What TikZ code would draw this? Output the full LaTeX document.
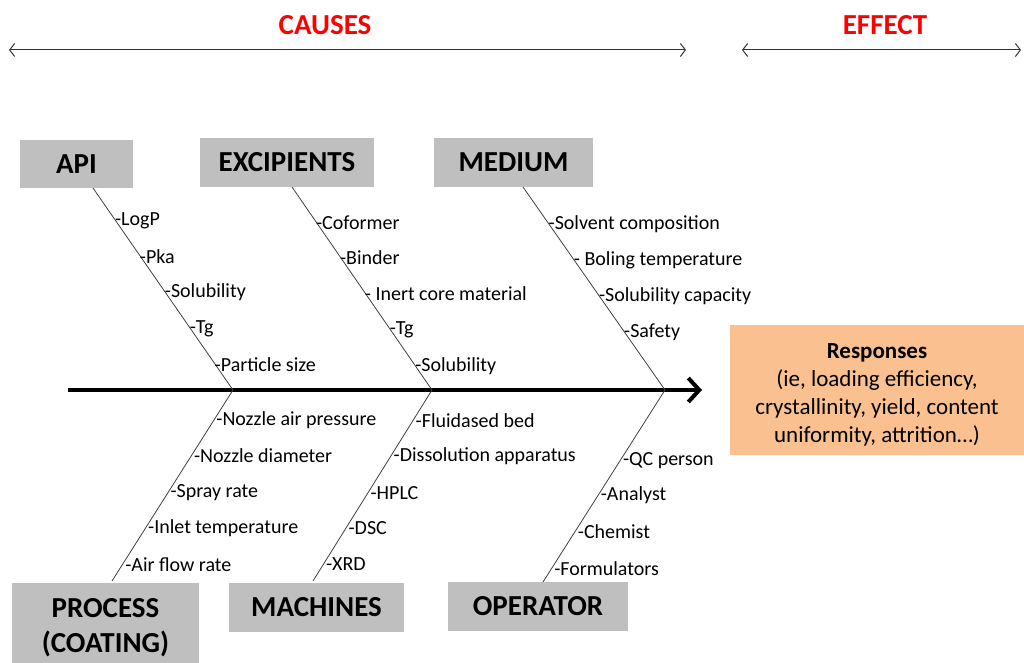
\documentclass[tikz,border=0pt]{standalone}
\usepackage{fontspec}
\setmainfont{Carlito}
\usetikzlibrary{arrows.meta,calc}
\definecolor{boxgray}{RGB}{191,191,191}
\definecolor{resporange}{RGB}{250,192,144}
\definecolor{bonegray}{RGB}{64,64,64}
\definecolor{causered}{RGB}{255,0,0}

\tikzset{
    causebox/.style={fill=boxgray, inner sep=0pt, align=center, font=\fontsize{29}{35}\selectfont\bfseries},
    factor/.style={anchor=west, inner sep=1pt, yshift=-2.5pt, font=\fontsize{20}{22}\selectfont},
    bone/.style={draw=bonegray, line width=0.8pt},
    spanline/.style={draw=black!80, line width=1pt, {Straight Barb[length=5pt,width=13pt]}-{Straight Barb[length=5pt,width=13pt]}},
    heading/.style={text=causered, font=\fontsize{29}{32}\selectfont\bfseries}
}

\begin{document}
\begin{tikzpicture}[x=1pt, y=-1pt]
    \useasboundingbox (0,0) rectangle (1024,663);

    % causes / effect headings
    \node[heading] (causes) at (325,25) {CAUSES};
    \node[heading] (effect) at (885,25) {EFFECT};
    \coordinate (cl) at (9,50);
    \coordinate (cr) at (686,50);
    \coordinate (el) at (742,50);
    \coordinate (er) at (1021,50);
    \draw[spanline] (cl) -- (cr);
    \draw[spanline] (el) -- (er);

    % category boxes
    \node[causebox, minimum width=113pt, minimum height=48pt] (api) at (76.5,164) {API};
    \node[causebox, minimum width=174pt, minimum height=49pt] (excip) at (287,162.5) {EXCIPIENTS};
    \node[causebox, minimum width=159pt, minimum height=49pt] (medium) at (513.5,162.5) {MEDIUM};
    \node[causebox, minimum width=187pt, minimum height=80pt] (process) at (105.5,623) {\rule{0pt}{29pt}PROCESS\\(COATING)};
    \node[causebox, minimum width=175pt, minimum height=49pt] (machines) at (316.5,607.5) {MACHINES};
    \node[causebox, minimum width=180pt, minimum height=49pt] (operator) at (538,606.5) {OPERATOR};

    % effect box
    \node[fill=resporange, minimum width=294pt, minimum height=130pt, inner sep=0pt, align=center,
          font=\fontsize{23}{28}\selectfont] (resp) at (877,390)
        {\rule{0pt}{24pt}\textbf{Responses}\\(ie, loading efficiency,\\crystallinity, yield, content\\uniformity, attrition…)};

    % spine
    \coordinate (tail) at (68,390);
    \coordinate (head) at (702,390);
    \coordinate (j1) at (233,390);
    \coordinate (j2) at (432,390);
    \coordinate (j3) at (665,390);
    \draw[line width=4pt, -{Straight Barb[length=11pt,width=24pt]}] (tail) -- (head);

    % bones
    \coordinate (apitop) at (93,188);
    \coordinate (excitop) at (292,187);
    \coordinate (meditop) at (523,187);
    \coordinate (procbot) at (112,581);
    \coordinate (machbot) at (313,581);
    \coordinate (operbot) at (543,582);
    \draw[bone] (apitop) -- (j1);
    \draw[bone] (excitop) -- (j2);
    \draw[bone] (meditop) -- (j3);
    \draw[bone] (j1) -- (procbot);
    \draw[bone] (j2) -- (machbot);
    \draw[bone] (j3) -- (operbot);

    % factors
    \foreach \t/\lab in {0.149/-LogP, 0.327/-Pka, 0.505/-Solubility, 0.683/-Tg, 0.861/-Particle size}
        \path (apitop) -- (j1) node[factor, pos=\t] {\lab};
    \foreach \t/\lab in {0.163/-Coformer, 0.335/-Binder, 0.512/- Inert core material, 0.69/-Tg, 0.872/-Solubility}
        \path (excitop) -- (j2) node[factor, pos=\t] {\lab};
    \foreach \t/\lab in {0.172/-Solvent composition, 0.35/- Boling temperature, 0.527/-Solubility capacity, 0.704/-Safety}
        \path (meditop) -- (j3) node[factor, pos=\t] {\lab};
    \foreach \t/\lab in {0.147/-Nozzle air pressure, 0.332/-Nozzle diameter, 0.526/-Spray rate, 0.711/-Inlet temperature, 0.9/-Air flow rate}
        \path (j1) -- (procbot) node[factor, pos=\t] {\lab};
    \foreach \t/\lab in {0.147/-Fluidased bed, 0.332/-Dissolution apparatus, 0.526/-HPLC, 0.711/-DSC, 0.9/-XRD}
        \path (j2) -- (machbot) node[factor, pos=\t] {\lab};
    \foreach \t/\lab in {0.354/-QC person, 0.536/-Analyst, 0.724/-Chemist, 0.917/-Formulators}
        \path (j3) -- (operbot) node[factor, pos=\t] {\lab};
\end{tikzpicture}
\end{document}
